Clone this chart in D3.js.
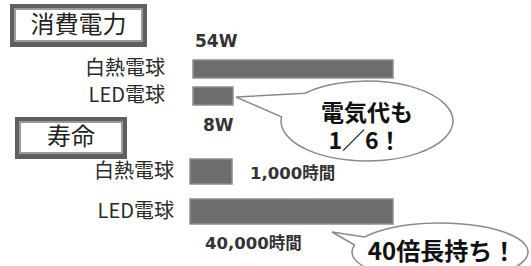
<!DOCTYPE html>
<html>
<head>
<meta charset="utf-8">
<script src="https://cdn.jsdelivr.net/npm/d3@7"></script>
<style>
  html, body { margin: 0; padding: 0; background: #fff; }
  svg { display: block; }
</style>
</head>
<body>
<svg id="chart" width="531" height="266"></svg>
<script>
// data
const powerTitle = "消費電力";
const powerCats = ["白熱電球", "LED電球"];
const powerValues = [54, 8];
const powerLabels = ["54W", "8W"];
const powerNote = ["電気代も", "1／6！"];

const lifeTitle = "寿命";
const lifeCats = ["白熱電球", "LED電球"];
const lifeValues = [1000, 40000];
const lifeLabels = ["1,000時間", "40,000時間"];
const lifeNote = ["40倍長持ち！"];

const svg = d3.select("#chart");
const jp = "'Noto Sans CJK JP', 'Noto Sans', sans-serif";
const num = "'DejaVu Sans', 'Noto Sans CJK JP', sans-serif";

const barFill = "#6d6d70";
const barStroke = "#8e8e90";

// title box (dark frame, white inside)
const titleBox = (x, y, w, h, text) => {
    svg.append("rect")
        .attr("x", x).attr("y", y).attr("width", w).attr("height", h)
        .attr("fill", "#5f5f5f");
    svg.append("rect")
        .attr("x", x + 4).attr("y", y + 4).attr("width", w - 8).attr("height", h - 9)
        .attr("fill", "#9a9a9a");
    svg.append("rect")
        .attr("x", x + 6).attr("y", y + 6).attr("width", w - 12).attr("height", h - 13)
        .attr("fill", "#fff");
    svg.append("text")
        .attr("x", x + w / 2).attr("y", y + h / 2 + 7)
        .attr("text-anchor", "middle")
        .attr("font-family", jp).attr("font-size", 24)
        .attr("fill", "#222")
        .text(text);
};

// one section: bars + category labels on the left
const section = (cats, values, yRange, pad, xScale, x0, labelPad) => {
    const y = d3.scaleBand().domain(cats).range(yRange).paddingInner(pad);

    svg.append("g").selectAll("rect")
        .data(cats)
        .enter()
        .append("rect")
        .attr("x", x0)
        .attr("y", d => y(d))
        .attr("width", (d, i) => xScale(values[i]))
        .attr("height", y.bandwidth())
        .attr("fill", barFill)
        .attr("stroke", barStroke)
        .attr("stroke-width", 1.5);

    const axis = svg.append("g")
        .attr("transform", `translate(${x0},0)`)
        .call(d3.axisLeft(y).tickSize(0).tickPadding(labelPad));
    axis.select(".domain").remove();
    axis.selectAll("text")
        .attr("font-family", jp)
        .attr("font-size", 20)
        .attr("fill", "#2a2a2a");
    return y;
};

const valueText = (x, y, size, text) => {
    svg.append("text")
        .attr("x", x).attr("y", y)
        .attr("font-family", num).attr("font-weight", "bold").attr("font-size", size)
        .attr("fill", "#333")
        .text(text);
};

// power
titleBox(10, 4, 137, 43, powerTitle);
const xPower = d3.scaleLinear().domain([8, 54]).range([40, 200]);
section(powerCats, powerValues, [60, 105], 0.333, xPower, 193, 28);
valueText(195, 47, 17, powerLabels[0]);
valueText(203, 131, 17, powerLabels[1]);

// lifetime
titleBox(15, 117, 112, 42, lifeTitle);
const xLife = d3.scaleLinear().domain([1000, 40000]).range([42, 203]);
section(lifeCats, lifeValues, [159, 224], 0.375, xLife, 190, 16);
valueText(250, 179, 16.5, lifeLabels[0]);
valueText(205, 249, 16.5, lifeLabels[1]);

// speech bubbles
const bubble = (cx, cy, rx, ry, tip, a1, a2) => {
    const p1 = [cx + rx * Math.cos(a1), cy + ry * Math.sin(a1)];
    const p2 = [cx + rx * Math.cos(a2), cy + ry * Math.sin(a2)];
    svg.append("path")
        .attr("d", `M${p1}L${tip}L${p2}A${rx} ${ry} 0 1 0 ${p1}`)
        .attr("fill", "#fff")
        .attr("stroke", "#8a8a8a")
        .attr("stroke-width", 1.5);
};

// multi-line note as one text element
const noteText = (x, y, size, lines, lineH) => {
    const t = svg.append("text")
        .attr("y", y)
        .attr("text-anchor", "middle")
        .attr("font-family", jp).attr("font-weight", "bold").attr("font-size", size)
        .attr("fill", "#111");
    t.selectAll("tspan")
        .data(lines)
        .enter()
        .append("tspan")
        .attr("x", (d, i) => x - i * 2)
        .attr("dy", (d, i) => i === 0 ? 0 : lineH)
        .text(d => d);
};

const deg = Math.PI / 180;
bubble(367, 121, 86, 40, [236, 97], 224 * deg, 186 * deg);
noteText(367, 121, 23, powerNote, 28);

bubble(440, 252, 88, 29, [332, 232], 211 * deg, 194 * deg);
noteText(442, 260, 24, lifeNote, 0);
</script>
</body>
</html>
